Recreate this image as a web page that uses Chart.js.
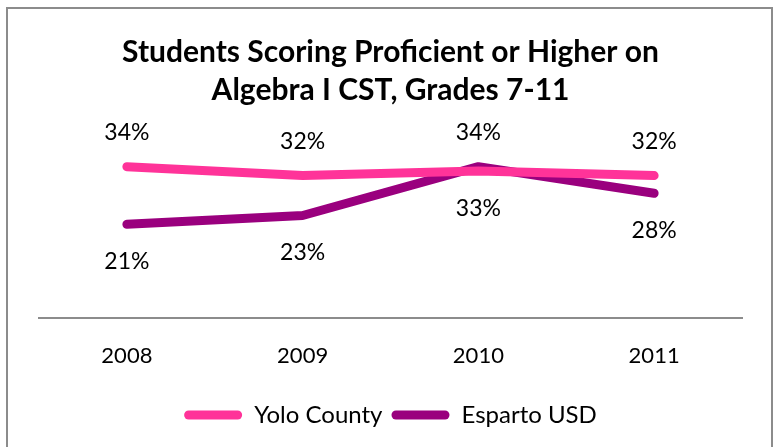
<!DOCTYPE html>
<html>
<head>
<meta charset="utf-8">
<script src="https://cdn.jsdelivr.net/npm/chart.js@4.4.1/dist/chart.umd.min.js"></script>
<style>
    body { margin: 0; background: #ffffff; }
    #wrap { position: relative; width: 776px; height: 447px; }
    #frame {
        position: absolute; left: 6px; top: 7px; width: 767px; height: 450px;
        border: 2px solid #8c8c8c; box-sizing: border-box;
    }
    canvas { position: absolute; left: 0; top: 0; }
</style>
</head>
<body>
<div id="wrap">
    <div id="frame"></div>
    <canvas id="chart" width="776" height="447"></canvas>
</div>
<script>
// Chart data
const years = ['2008', '2009', '2010', '2011'];
const yoloCounty = [34, 32, 33, 32];
const espartoUSD = [21, 23, 34, 28];
const titleLines = ['Students Scoring Proficient or Higher on', 'Algebra I CST, Grades 7-11'];

// label placement per point (above / below the line)
const yoloLabelSide = ['up', 'up', 'down', 'up'];
const espartoLabelSide = ['down', 'down', 'up', 'down'];

const pink = '#ff3399';
const purple = '#9a007e';

// Draw value labels next to each point
const valueLabels = {
    id: 'valueLabels',
    afterDatasetsDraw(chart) {
        const ctx = chart.ctx;
        ctx.save();
        ctx.font = '23px Lato';
        ctx.fillStyle = '#000000';
        ctx.textAlign = 'center';
        ctx.textBaseline = 'middle';
        chart.data.datasets.forEach((ds, i) => {
            const meta = chart.getDatasetMeta(i);
            meta.data.forEach((pt, j) => {
                const side = ds.labelSide[j];
                const y = side === 'up' ? pt.y - 34 : pt.y + 37;
                ctx.fillText(ds.data[j] + '%', pt.x, y);
            });
        });
        ctx.restore();
    }
};

const ctx = document.getElementById('chart').getContext('2d');

const chart = new Chart(ctx, {
    type: 'line',
    data: {
        labels: years,
        datasets: [
            {
                label: 'Yolo County',
                data: yoloCounty,
                labelSide: yoloLabelSide,
                borderColor: pink,
                backgroundColor: pink,
                borderWidth: 9,
                borderCapStyle: 'round',
                borderJoinStyle: 'round',
                pointRadius: 0,
                tension: 0
            },
            {
                label: 'Esparto USD',
                data: espartoUSD,
                labelSide: espartoLabelSide,
                borderColor: purple,
                backgroundColor: purple,
                borderWidth: 9,
                borderCapStyle: 'round',
                borderJoinStyle: 'round',
                pointRadius: 0,
                tension: 0
            }
        ]
    },
    options: {
        responsive: false,
        animation: false,
        layout: {
            padding: { left: 39, right: 34, top: 0, bottom: 10 }
        },
        plugins: {
            title: {
                display: true,
                text: titleLines,
                color: '#000000',
                font: { family: 'Lato', size: 30, weight: 'bold', lineHeight: 1.25 },
                padding: { top: 34, bottom: 31 }
            },
            legend: {
                position: 'bottom',
                labels: {
                    color: '#000000',
                    font: { family: 'Lato', size: 24 },
                    boxWidth: 58,
                    boxHeight: 9,
                    padding: 9,
                    useBorderRadius: true,
                    borderRadius: 4.5,
                    generateLabels(chart) {
                        return chart.data.datasets.map((ds, i) => ({
                            text: ds.label,
                            fillStyle: ds.borderColor,
                            strokeStyle: ds.borderColor,
                            lineWidth: 0,
                            borderRadius: 4.5,
                            datasetIndex: i,
                            fontColor: '#000000'
                        }));
                    }
                }
            },
            tooltip: { enabled: false }
        },
        scales: {
            x: {
                offset: true,
                grid: { display: false, drawTicks: false },
                border: { color: '#8c8c8c', width: 2 },
                ticks: {
                    color: '#000000',
                    font: { family: 'Lato', size: 22 },
                    padding: 25
                }
            },
            y: {
                display: false,
                min: 0,
                max: 40
            }
        }
    },
    plugins: [valueLabels]
});
</script>
</body>
</html>
